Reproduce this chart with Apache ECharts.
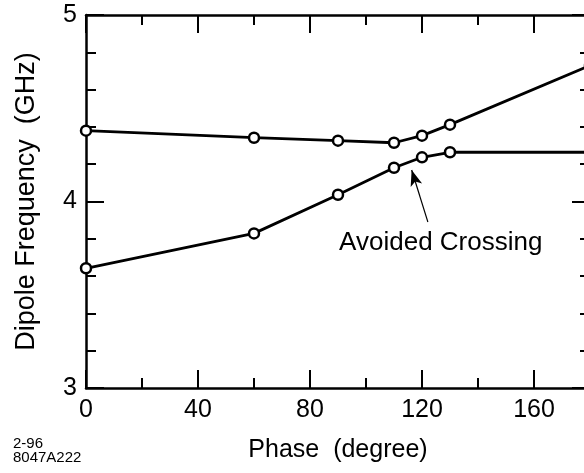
<!DOCTYPE html>
<html>
<head>
<meta charset="utf-8">
<script src="https://cdn.jsdelivr.net/npm/echarts@6/dist/echarts.min.js"></script>
<style>
html,body{margin:0;padding:0;background:#fff;}
#chart{width:584px;height:473px;}
</style>
</head>
<body>
<div id="chart"></div>
<script>
// Data
var phase = [0, 60, 90, 110, 120, 130, 180];
var upperBranch = [4.38, 4.342, 4.326, 4.315, 4.353, 4.412, 4.73];
var lowerBranch = [3.642, 3.829, 4.036, 4.181, 4.237, 4.264, 4.264];
var xTicks = [0, 40, 80, 120, 160];
var yTicks = [3, 4, 5];
var annotationText = 'Avoided Crossing';
var annotationLabelAt = [126.7, 3.777];
var arrowFrom = [122.1, 3.89];
var arrowTo = [116.3, 4.169];
var figureCode = ['2-96', '8047A222'];

var FONT = '"Liberation Sans", Arial, Helvetica, sans-serif';
function pairs(xs, ys) { return xs.map(function (x, i) { return [x, ys[i]]; }); }

var chart = echarts.init(document.getElementById('chart'), null, {renderer: 'canvas'});
var axisLineStyle = {color: '#000', width: 2.5};
var tickCommon = {show: true, inside: true, length: 18, lineStyle: {color: '#000', width: 2}};
var minorCommon = {show: true, length: 10, lineStyle: {color: '#000', width: 2}};

var option = {
  animation: false,
  backgroundColor: '#fff',
  textStyle: {fontFamily: FONT},
  grid: {left: 86, top: 15, width: 504, height: 373, containLabel: false, outerBoundsMode: 'none'},
  xAxis: [{
    type: 'value', min: 0, max: 180, interval: 40, position: 'bottom',
    axisLine: {show: true, onZero: false, lineStyle: axisLineStyle},
    axisTick: tickCommon,
    minorTick: Object.assign({splitNumber: 2}, minorCommon),
    splitLine: {show: false},
    axisLabel: {color: '#000', fontSize: 25, fontFamily: FONT, margin: 10,
      formatter: function (v) { return xTicks.indexOf(v) >= 0 ? String(v) : ''; }},
    name: 'Phase  (degree)', nameLocation: 'middle', nameGap: 50,
    nameTextStyle: {color: '#000', fontSize: 25, fontFamily: FONT}
  }, {
    type: 'value', min: 0, max: 180, interval: 40, position: 'top',
    axisLine: {show: true, onZero: false, lineStyle: axisLineStyle},
    axisTick: tickCommon,
    minorTick: Object.assign({splitNumber: 2}, minorCommon),
    splitLine: {show: false},
    axisLabel: {show: false}
  }],
  yAxis: [{
    type: 'value', min: 3, max: 5, interval: 1, position: 'left',
    axisLine: {show: true, onZero: false, lineStyle: axisLineStyle},
    axisTick: tickCommon,
    minorTick: Object.assign({splitNumber: 5}, minorCommon),
    splitLine: {show: false},
    axisLabel: {color: '#000', fontSize: 25, fontFamily: FONT, margin: 9,
      formatter: function (v) { return yTicks.indexOf(v) >= 0 ? String(v) : ''; }},
    name: 'Dipole Frequency  (GHz)', nameLocation: 'middle', nameGap: 46,
    nameTextStyle: {color: '#000', fontSize: 27, fontFamily: FONT}
  }, {
    type: 'value', min: 3, max: 5, interval: 1, position: 'right',
    axisLine: {show: true, onZero: false, lineStyle: axisLineStyle},
    axisTick: tickCommon,
    minorTick: Object.assign({splitNumber: 5}, minorCommon),
    splitLine: {show: false},
    axisLabel: {show: false}
  }],
  series: [{
    type: 'line', data: pairs(phase, upperBranch),
    symbol: 'circle', symbolSize: 10, showAllSymbol: true,
    lineStyle: {color: '#000', width: 2.8},
    itemStyle: {color: '#fff', borderColor: '#000', borderWidth: 2.5},
    z: 3
  }, {
    type: 'line', data: pairs(phase, lowerBranch),
    symbol: 'circle', symbolSize: 10, showAllSymbol: true,
    lineStyle: {color: '#000', width: 2.8},
    itemStyle: {color: '#fff', borderColor: '#000', borderWidth: 2.5},
    z: 3,
    markLine: {
      silent: true, animation: false,
      lineStyle: {color: '#000', width: 1.2, type: 'solid'},
      label: {show: false},
      symbolSize: [9, 16],
      data: [[{coord: arrowFrom, symbol: 'none'}, {coord: arrowTo, symbol: 'arrow'}]]
    },
    markPoint: {
      silent: true, animation: false,
      symbol: 'circle', symbolSize: 0,
      label: {show: true, position: 'inside', color: '#000', fontSize: 26, fontFamily: FONT,
        formatter: annotationText},
      data: [{coord: annotationLabelAt}]
    }
  }],
  graphic: [{
    type: 'text', left: 13, top: 436,
    style: {text: figureCode.join('\n'), fill: '#000', font: '15px ' + FONT, lineHeight: 14}
  }]
};
chart.setOption(option);
</script>
</body>
</html>
